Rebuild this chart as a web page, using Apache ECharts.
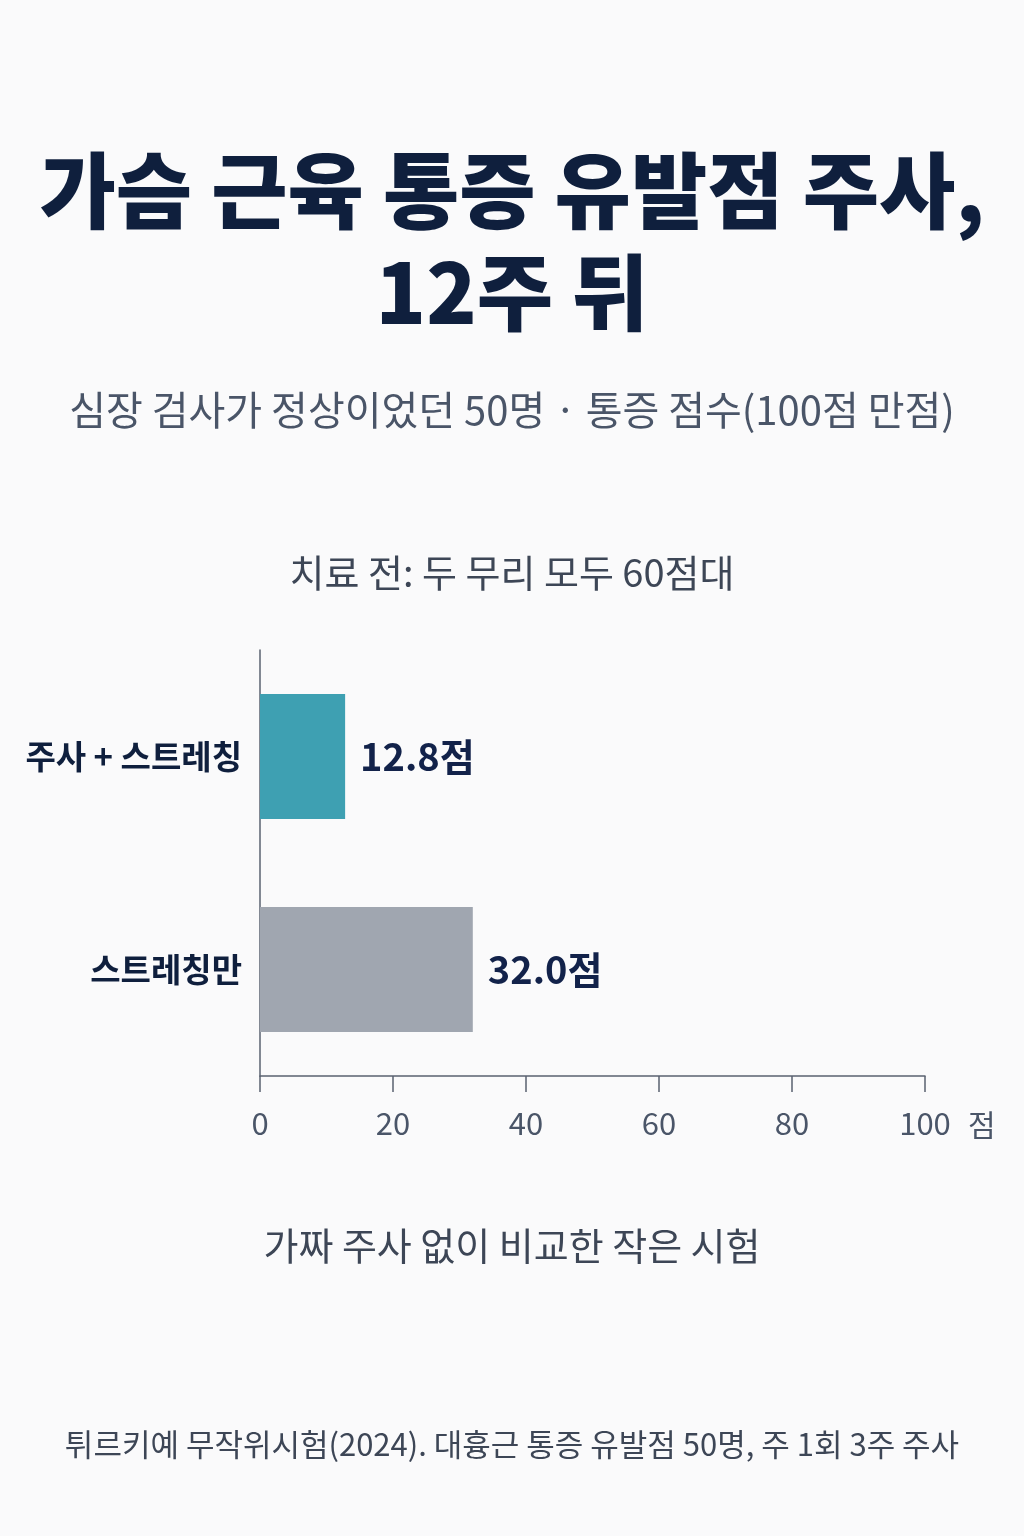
<!DOCTYPE html>
<html>
<head>
<meta charset="utf-8">
<script src="https://cdn.jsdelivr.net/npm/echarts@6/dist/echarts.min.js"></script>
<style>
html,body{margin:0;padding:0;background:#fafafb;}
#c{width:1024px;height:1536px;}
</style>
</head>
<body>
<div id="c"></div>
<script>
const titleLines = ['가슴 근육 통증 유발점 주사,', '12주 뒤'];
const subtitle = '심장 검사가 정상이었던 50명 · 통증 점수(100점 만점)';
const chartTitle = '치료 전: 두 무리 모두 60점대';
const note = '가짜 주사 없이 비교한 작은 시험';
const source = '튀르키예 무작위시험(2024). 대흉근 통증 유발점 50명, 주 1회 3주 주사';
const categories = ['주사 + 스트레칭', '스트레칭만'];
const values = [12.8, 32.0];
const barColors = ['#3ea0b2', '#a0a6b0'];
const axisUnit = '점';

const font = '"Noto Sans CJK KR", "Noto Sans", sans-serif';
const chart = echarts.init(document.getElementById('c'), null, {renderer: 'canvas'});
chart.setOption({
  backgroundColor: '#fafafb',
  animation: false,
  title: [
    {text: titleLines.join('\n'), left: 'center', top: 134,
     textStyle: {fontFamily: font, fontSize: 83, fontWeight: 900, color: '#0f1f3d', lineHeight: 102}},
    {text: subtitle, left: 'center', top: 385,
     textStyle: {fontFamily: font, fontSize: 40, fontWeight: 400, color: '#4a5568'}},
    {text: chartTitle, left: 'center', top: 549,
     textStyle: {fontFamily: font, fontSize: 38, fontWeight: 400, color: '#3d4656'}},
    {text: note, left: 'center', top: 1222,
     textStyle: {fontFamily: font, fontSize: 38, fontWeight: 400, color: '#3d4656'}},
    {text: source, left: 'center', top: 1424,
     textStyle: {fontFamily: font, fontSize: 31, fontWeight: 400, color: '#3d4656'}}
  ],
  grid: {left: 260, right: 99, top: 650, bottom: 1536 - 1076, containLabel: false},
  xAxis: {
    type: 'value', min: 0, max: 100, interval: 20,
    name: axisUnit, nameLocation: 'end', nameGap: 43,
    nameTextStyle: {fontFamily: font, fontSize: 30, color: '#4a5568', verticalAlign: 'top', padding: [34, 0, 0, 0]},
    axisLine: {show: true, lineStyle: {color: '#5a6270', width: 1.5}},
    axisTick: {show: true, length: 16, lineStyle: {color: '#5a6270', width: 1.5}},
    splitLine: {show: false},
    axisLabel: {fontFamily: font, fontSize: 31, color: '#4a5568', margin: 32}
  },
  yAxis: {
    type: 'category', data: categories, inverse: true,
    axisLine: {show: true, lineStyle: {color: '#5a6270', width: 1.5}},
    axisTick: {show: false},
    axisLabel: {fontFamily: font, fontSize: 33, fontWeight: 700, color: '#0f1f3d', margin: 18}
  },
  series: [{
    type: 'bar',
    data: values.map((v, i) => ({value: v, itemStyle: {color: barColors[i]}})),
    barWidth: 125,
    label: {
      show: true, position: 'right', distance: 15,
      fontFamily: font, fontSize: 38, fontWeight: 700, color: '#12224a',
      formatter: p => p.value.toFixed(1) + '점'
    }
  }]
});
</script>
</body>
</html>
